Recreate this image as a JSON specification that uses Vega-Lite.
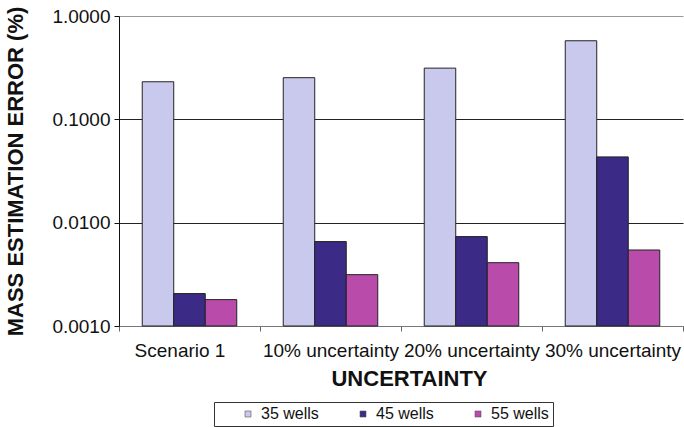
{
  "$schema": "https://vega.github.io/schema/vega-lite/v6.json",
  "autosize": {"type": "none"},
  "width": 564,
  "height": 310,
  "padding": {"left": 119, "top": 16, "right": 1, "bottom": 101},
  "background": "white",
  "config": {
    "view": {"stroke": null},
    "font": "Liberation Sans",
    "axis": {"labelFont": "Liberation Sans", "titleFont": "Liberation Sans", "labelColor": "#111", "titleColor": "#111"}
  },
  "data": {
    "values": [
      {"scenario": "Scenario 1", "wells": "35 wells", "error": 0.231},
      {"scenario": "Scenario 1", "wells": "45 wells", "error": 0.00206},
      {"scenario": "Scenario 1", "wells": "55 wells", "error": 0.0018},
      {"scenario": "10% uncertainty", "wells": "35 wells", "error": 0.253},
      {"scenario": "10% uncertainty", "wells": "45 wells", "error": 0.00656},
      {"scenario": "10% uncertainty", "wells": "55 wells", "error": 0.00314},
      {"scenario": "20% uncertainty", "wells": "35 wells", "error": 0.313},
      {"scenario": "20% uncertainty", "wells": "45 wells", "error": 0.00733},
      {"scenario": "20% uncertainty", "wells": "55 wells", "error": 0.0041},
      {"scenario": "30% uncertainty", "wells": "35 wells", "error": 0.576},
      {"scenario": "30% uncertainty", "wells": "45 wells", "error": 0.0433},
      {"scenario": "30% uncertainty", "wells": "55 wells", "error": 0.00544}
    ]
  },
  "mark": {"type": "bar", "stroke": "#222", "strokeWidth": 1},
  "encoding": {
    "x": {
      "field": "scenario",
      "type": "nominal",
      "sort": ["Scenario 1", "10% uncertainty", "20% uncertainty", "30% uncertainty"],
      "scale": {"paddingInner": 0, "paddingOuter": 0},
      "axis": {
        "title": "UNCERTAINTY",
        "titleFontSize": 22,
        "titleFontWeight": "bold",
        "titlePadding": 8,
        "titleX": 290,
        "labelFontSize": 19,
        "labelAngle": 0,
        "labelPadding": 10,
        "labelOffset": {"condition": {"test": "datum.value === 'Scenario 1'", "value": -10}, "value": 0},
        "tickBand": "extent",
        "tickSize": 5,
        "tickColor": "#666",
        "domainColor": "#777",
        "grid": false
      }
    },
    "xOffset": {
      "field": "wells",
      "type": "nominal",
      "scale": {"paddingInner": 0, "paddingOuter": 0.738}
    },
    "y": {
      "field": "error",
      "type": "quantitative",
      "scale": {"type": "log", "domain": [0.001, 1], "nice": false},
      "axis": {
        "title": "MASS ESTIMATION ERROR (%)",
        "titleFontSize": 22,
        "titleFontWeight": "bold",
        "titlePadding": 24,
        "labelFontSize": 19,
        "labelPadding": 4,
        "format": ".4f",
        "values": [0.001, 0.01, 0.1, 1],
        "tickSize": 5,
        "tickColor": "#111",
        "domainColor": "#111",
        "grid": true,
        "gridColor": {"condition": {"test": "datum.value >= 1", "value": "#999"}, "value": "#222"},
        "gridOpacity": 1
      }
    },
    "y2": {"datum": 0.001},
    "color": {
      "field": "wells",
      "type": "nominal",
      "scale": {"domain": ["35 wells", "45 wells", "55 wells"], "range": ["#c9c9ed", "#3b2a86", "#b94bab"]},
      "legend": {
        "orient": "none",
        "legendX": 95,
        "legendY": 386,
        "direction": "horizontal",
        "columns": 3,
        "title": " ",
        "titleOrient": "left",
        "titleFontSize": 16,
        "titlePadding": 22,
        "padding": 4,
        "strokeColor": "#333",
        "fillColor": "white",
        "symbolType": "square",
        "symbolSize": 36,
        "symbolStrokeColor": "#555",
        "symbolStrokeWidth": 0.6,
        "symbolOpacity": 1,
        "labelFontSize": 16,
        "labelFont": "Liberation Sans",
        "labelColor": "#111",
        "labelOffset": 5,
        "columnPadding": 36
      }
    }
  }
}
